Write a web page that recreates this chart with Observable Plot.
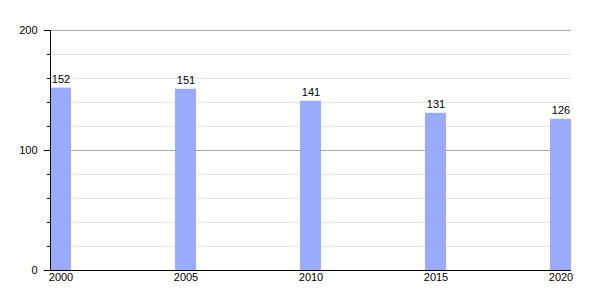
<!DOCTYPE html>
<html>
<head>
<meta charset="utf-8">
<script src="https://cdn.jsdelivr.net/npm/d3@7"></script>
<script src="https://cdn.jsdelivr.net/npm/@observablehq/plot@0.6"></script>
<style>
  html, body { margin: 0; padding: 0; background: #fff; }
</style>
</head>
<body>
<div id="chart"></div>
<script>
const years = ["2000", "2005", "2010", "2015", "2020"];
const values = [152, 151, 141, 131, 126];
const majorTicks = [0, 100, 200];
const minorTicks = [20, 40, 60, 80, 120, 140, 160, 180];

const data = years.map((y, i) => ({year: y, value: values[i]}));

const chart = Plot.plot({
  width: 600,
  height: 300,
  marginLeft: 50,
  marginRight: 29,
  marginTop: 30,
  marginBottom: 30,
  style: {fontFamily: "'Liberation Sans', Arial, sans-serif", fontSize: "11px", color: "#000", background: "#fff"},
  x: {type: "band", domain: years, paddingInner: 0.834, paddingOuter: 0, label: null},
  y: {domain: [0, 200], label: null},
  marks: [
    Plot.gridY(minorTicks, {stroke: "#e2e2e2", strokeOpacity: 1}),
    Plot.gridY([100, 200], {stroke: "#a8a8a8", strokeOpacity: 1}),
    Plot.barY(data, {x: "year", y: "value", fill: "#99aaff"}),
    Plot.text(data, {x: "year", y: "value", text: d => String(d.value), dy: -9, fill: "#000"}),
    Plot.ruleY([0], {stroke: "#000"}),
    Plot.frame({anchor: "left", stroke: "#000"}),
    Plot.axisY(majorTicks, {tickSize: 6, tickPadding: 7, label: null, stroke: "#000"}),
    Plot.axisY(minorTicks, {tickSize: 3, tickFormat: () => "", label: null, stroke: "#000"}),
    Plot.axisX({tickSize: 0, tickPadding: 3, label: null})
  ]
});
document.getElementById("chart").append(chart);
</script>
</body>
</html>
